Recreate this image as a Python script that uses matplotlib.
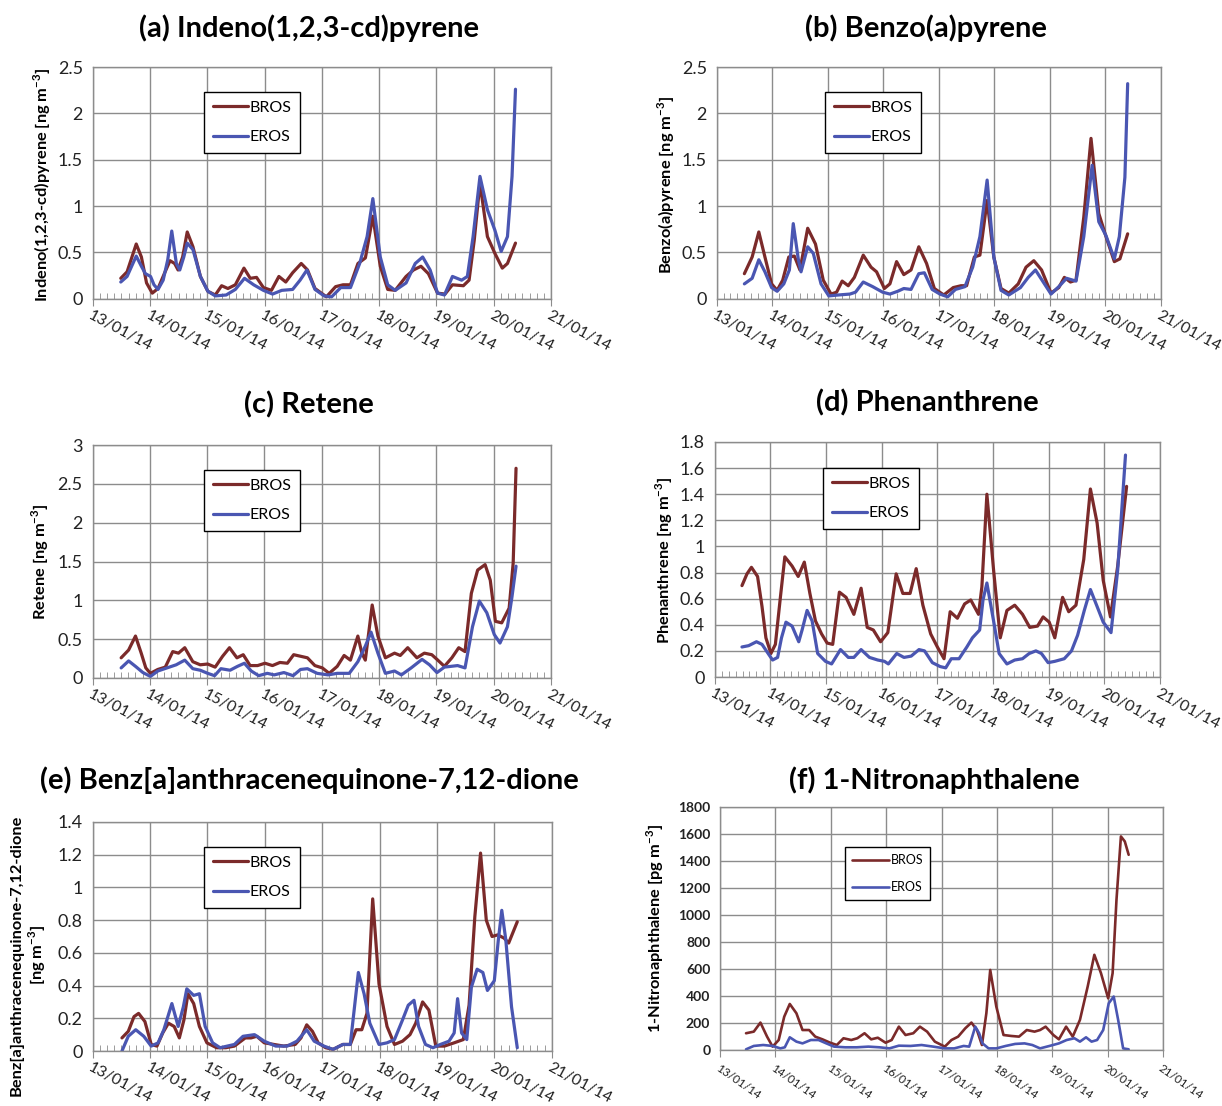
import matplotlib
matplotlib.use('Agg')
import matplotlib.pyplot as plt
from matplotlib.ticker import MultipleLocator, FixedLocator, NullLocator

plt.rcParams['font.family'] = ['Lato', 'DejaVu Sans']
plt.rcParams['mathtext.fontset'] = 'custom'
plt.rcParams['mathtext.rm'] = 'Lato'
plt.rcParams['mathtext.bf'] = 'Lato:bold'

BROS_C = '#7b2a2a'
EROS_C = '#4a56b2'
GRID_C = '#8c8c8c'

days = [13, 14, 15, 16, 17, 18, 19, 20, 21]
day_labels = ['13/01/14', '14/01/14', '15/01/14', '16/01/14', '17/01/14',
              '18/01/14', '19/01/14', '20/01/14', '21/01/14']

# (a) Indeno(1,2,3-cd)pyrene
a_bros_x = [13.49, 13.60, 13.76, 13.85, 13.94, 14.04, 14.14, 14.25, 14.35, 14.43, 14.49, 14.57, 14.65, 14.75,
            14.88, 15.01, 15.14, 15.25, 15.36, 15.49, 15.64, 15.75, 15.86, 15.98, 16.12, 16.25, 16.37, 16.49,
            16.64, 16.75, 16.88, 17.08, 17.24, 17.37, 17.50, 17.63, 17.76, 17.89, 18.02, 18.15, 18.28, 18.47,
            18.60, 18.73, 18.86, 19.02, 19.15, 19.28, 19.47, 19.57, 19.66, 19.76, 19.89, 20.02, 20.15, 20.24, 20.38]
a_bros_y = [0.22, 0.29, 0.59, 0.45, 0.17, 0.06, 0.11, 0.27, 0.41, 0.38, 0.31, 0.45, 0.72, 0.56,
            0.24, 0.08, 0.04, 0.14, 0.11, 0.15, 0.33, 0.22, 0.23, 0.12, 0.09, 0.24, 0.18, 0.28,
            0.38, 0.31, 0.11, 0.02, 0.13, 0.15, 0.15, 0.38, 0.44, 0.89, 0.35, 0.10, 0.09, 0.24,
            0.31, 0.35, 0.27, 0.06, 0.05, 0.15, 0.14, 0.20, 0.63, 1.25, 0.67, 0.49, 0.33, 0.38, 0.60]
a_eros_x = [13.49, 13.60, 13.76, 13.85, 13.92, 14.01, 14.07, 14.14, 14.23, 14.31, 14.38, 14.46, 14.52, 14.59,
            14.65, 14.75, 14.88, 15.01, 15.14, 15.33, 15.49, 15.65, 15.81, 15.98, 16.14, 16.30, 16.49, 16.62,
            16.74, 16.88, 17.04, 17.17, 17.33, 17.50, 17.66, 17.79, 17.89, 18.02, 18.15, 18.28, 18.47, 18.63,
            18.76, 18.89, 19.02, 19.14, 19.28, 19.44, 19.54, 19.64, 19.76, 19.89, 20.02, 20.13, 20.24, 20.32, 20.38]
a_eros_y = [0.18, 0.24, 0.46, 0.35, 0.27, 0.24, 0.15, 0.10, 0.20, 0.42, 0.73, 0.38, 0.31, 0.45,
            0.60, 0.53, 0.24, 0.08, 0.03, 0.04, 0.10, 0.22, 0.15, 0.09, 0.05, 0.09, 0.10, 0.20,
            0.31, 0.10, 0.03, 0.02, 0.12, 0.12, 0.38, 0.67, 1.08, 0.45, 0.15, 0.09, 0.17, 0.38,
            0.45, 0.31, 0.06, 0.04, 0.24, 0.20, 0.24, 0.67, 1.32, 0.96, 0.74, 0.51, 0.67, 1.32, 2.26]

# (b) Benzo(a)pyrene
b_bros_x = [13.50, 13.64, 13.76, 13.87, 13.99, 14.09, 14.19, 14.30, 14.40, 14.50, 14.64, 14.78, 14.92, 15.06,
            15.16, 15.26, 15.37, 15.48, 15.64, 15.78, 15.88, 16.02, 16.12, 16.24, 16.37, 16.50, 16.64, 16.78,
            16.92, 17.09, 17.26, 17.40, 17.50, 17.64, 17.74, 17.87, 17.99, 18.12, 18.26, 18.43, 18.57, 18.71,
            18.85, 19.02, 19.16, 19.26, 19.37, 19.47, 19.61, 19.74, 19.88, 20.01, 20.16, 20.26, 20.40]
b_bros_y = [0.27, 0.45, 0.72, 0.45, 0.16, 0.09, 0.20, 0.45, 0.46, 0.31, 0.76, 0.59, 0.20, 0.05,
            0.07, 0.19, 0.14, 0.23, 0.47, 0.34, 0.29, 0.11, 0.16, 0.40, 0.26, 0.31, 0.56, 0.38,
            0.11, 0.04, 0.12, 0.14, 0.14, 0.45, 0.47, 1.06, 0.45, 0.11, 0.06, 0.16, 0.34, 0.41,
            0.31, 0.06, 0.12, 0.23, 0.18, 0.20, 0.88, 1.73, 0.92, 0.67, 0.40, 0.43, 0.70]
b_eros_x = [13.50, 13.64, 13.76, 13.87, 13.99, 14.09, 14.21, 14.31, 14.38, 14.47, 14.52, 14.64, 14.74, 14.88,
            15.02, 15.19, 15.40, 15.50, 15.64, 15.81, 15.99, 16.12, 16.26, 16.37, 16.50, 16.64, 16.74, 16.88,
            17.02, 17.16, 17.30, 17.47, 17.61, 17.74, 17.87, 17.99, 18.12, 18.26, 18.47, 18.61, 18.74, 18.88,
            19.02, 19.16, 19.30, 19.47, 19.61, 19.76, 19.88, 20.01, 20.16, 20.25, 20.35, 20.40]
b_eros_y = [0.16, 0.22, 0.42, 0.29, 0.12, 0.08, 0.16, 0.31, 0.81, 0.43, 0.29, 0.56, 0.49, 0.16,
            0.03, 0.04, 0.05, 0.07, 0.18, 0.13, 0.07, 0.05, 0.08, 0.11, 0.10, 0.27, 0.28, 0.10,
            0.05, 0.02, 0.10, 0.13, 0.34, 0.67, 1.28, 0.45, 0.09, 0.04, 0.12, 0.23, 0.31, 0.18,
            0.05, 0.13, 0.22, 0.19, 0.67, 1.44, 0.83, 0.68, 0.43, 0.67, 1.31, 2.32]

# (c) Retene
c_bros_x = [13.50, 13.63, 13.75, 13.85, 13.93, 14.01, 14.14, 14.27, 14.40, 14.50, 14.61, 14.75, 14.88, 15.01,
            15.14, 15.27, 15.39, 15.52, 15.63, 15.75, 15.88, 16.01, 16.14, 16.27, 16.40, 16.51, 16.63, 16.75,
            16.88, 17.01, 17.13, 17.27, 17.39, 17.50, 17.63, 17.70, 17.76, 17.88, 17.98, 18.11, 18.27, 18.37,
            18.50, 18.66, 18.79, 18.92, 19.01, 19.14, 19.27, 19.39, 19.50, 19.61, 19.72, 19.85, 19.94, 20.03,
            20.14, 20.27, 20.34, 20.39]
c_bros_y = [0.26, 0.36, 0.54, 0.32, 0.13, 0.06, 0.11, 0.14, 0.34, 0.32, 0.39, 0.21, 0.17, 0.18,
            0.14, 0.28, 0.39, 0.26, 0.30, 0.16, 0.16, 0.19, 0.16, 0.20, 0.19, 0.30, 0.28, 0.26,
            0.16, 0.13, 0.06, 0.15, 0.29, 0.23, 0.54, 0.32, 0.23, 0.94, 0.54, 0.26, 0.32, 0.29,
            0.39, 0.26, 0.32, 0.30, 0.24, 0.15, 0.26, 0.39, 0.34, 1.09, 1.39, 1.46, 1.26, 0.73,
            0.71, 0.90, 1.48, 2.70]
c_eros_x = [13.50, 13.63, 13.75, 13.88, 14.01, 14.14, 14.30, 14.46, 14.61, 14.75, 14.88, 15.01, 15.13, 15.24,
            15.40, 15.53, 15.65, 15.77, 15.90, 16.05, 16.17, 16.34, 16.50, 16.63, 16.75, 16.92, 17.11, 17.27,
            17.48, 17.63, 17.76, 17.86, 17.98, 18.11, 18.27, 18.39, 18.56, 18.75, 18.88, 19.01, 19.14, 19.37,
            19.50, 19.63, 19.75, 19.88, 20.01, 20.11, 20.24, 20.32, 20.39]
c_eros_y = [0.13, 0.22, 0.15, 0.07, 0.02, 0.09, 0.13, 0.17, 0.23, 0.12, 0.10, 0.06, 0.03, 0.12,
            0.10, 0.15, 0.19, 0.09, 0.03, 0.06, 0.04, 0.07, 0.03, 0.11, 0.12, 0.06, 0.04, 0.06,
            0.06, 0.21, 0.41, 0.59, 0.32, 0.06, 0.09, 0.04, 0.13, 0.24, 0.17, 0.07, 0.14, 0.16,
            0.13, 0.66, 0.99, 0.84, 0.56, 0.45, 0.66, 1.05, 1.44]

# (d) Phenanthrene
d_bros_x = [13.49, 13.58, 13.66, 13.77, 13.85, 13.92, 14.01, 14.09, 14.18, 14.26, 14.39, 14.50, 14.61, 14.71,
            14.81, 14.92, 15.02, 15.12, 15.24, 15.36, 15.50, 15.63, 15.74, 15.85, 15.98, 16.11, 16.26, 16.38,
            16.51, 16.62, 16.74, 16.88, 17.00, 17.12, 17.23, 17.36, 17.49, 17.60, 17.74, 17.80, 17.89, 18.01,
            18.13, 18.25, 18.39, 18.53, 18.66, 18.80, 18.90, 19.01, 19.11, 19.25, 19.36, 19.49, 19.63, 19.75,
            19.87, 19.98, 20.11, 20.24, 20.40]
d_bros_y = [0.70, 0.79, 0.84, 0.77, 0.54, 0.30, 0.18, 0.25, 0.61, 0.92, 0.85, 0.77, 0.88, 0.64,
            0.43, 0.33, 0.26, 0.25, 0.65, 0.61, 0.48, 0.68, 0.38, 0.36, 0.27, 0.34, 0.79, 0.64,
            0.64, 0.83, 0.55, 0.33, 0.23, 0.14, 0.50, 0.45, 0.56, 0.59, 0.48, 0.69, 1.40, 0.82,
            0.30, 0.51, 0.55, 0.48, 0.38, 0.39, 0.46, 0.42, 0.30, 0.61, 0.50, 0.55, 0.90, 1.44,
            1.18, 0.74, 0.46, 0.85, 1.46]
d_eros_x = [13.49, 13.61, 13.75, 13.85, 13.96, 14.04, 14.13, 14.20, 14.28, 14.39, 14.51, 14.57, 14.66, 14.75,
            14.85, 14.99, 15.10, 15.26, 15.40, 15.50, 15.63, 15.78, 15.93, 16.05, 16.12, 16.27, 16.40, 16.53,
            16.67, 16.77, 16.91, 17.05, 17.15, 17.25, 17.39, 17.53, 17.63, 17.76, 17.82, 17.89, 18.01, 18.11,
            18.25, 18.39, 18.53, 18.65, 18.77, 18.87, 18.99, 19.11, 19.28, 19.41, 19.52, 19.64, 19.75, 19.87,
            19.98, 20.12, 20.24, 20.38]
d_eros_y = [0.23, 0.24, 0.27, 0.25, 0.18, 0.13, 0.15, 0.30, 0.42, 0.39, 0.27, 0.36, 0.51, 0.43,
            0.18, 0.12, 0.10, 0.21, 0.15, 0.15, 0.21, 0.15, 0.13, 0.12, 0.10, 0.18, 0.15, 0.16,
            0.21, 0.20, 0.11, 0.08, 0.07, 0.14, 0.14, 0.23, 0.30, 0.36, 0.59, 0.72, 0.43, 0.18,
            0.10, 0.13, 0.14, 0.18, 0.20, 0.18, 0.11, 0.12, 0.14, 0.20, 0.32, 0.51, 0.67, 0.54,
            0.42, 0.34, 0.82, 1.70]

# (e) Benz[a]anthracenequinone-7,12-dione
e_bros_x = [13.51, 13.62, 13.72, 13.80, 13.91, 14.02, 14.12, 14.22, 14.32, 14.42, 14.51, 14.59, 14.66, 14.76,
            14.86, 14.99, 15.16, 15.32, 15.47, 15.66, 15.76, 15.86, 15.99, 16.16, 16.33, 16.53, 16.63, 16.73,
            16.83, 16.93, 17.06, 17.19, 17.36, 17.49, 17.59, 17.69, 17.78, 17.88, 17.99, 18.13, 18.26, 18.40,
            18.53, 18.63, 18.75, 18.86, 18.98, 19.13, 19.30, 19.46, 19.56, 19.66, 19.76, 19.86, 19.96, 20.06,
            20.17, 20.25, 20.40]
e_bros_y = [0.08, 0.12, 0.21, 0.23, 0.18, 0.04, 0.03, 0.11, 0.17, 0.15, 0.08, 0.19, 0.35, 0.29,
            0.15, 0.05, 0.02, 0.02, 0.03, 0.08, 0.08, 0.09, 0.05, 0.04, 0.03, 0.04, 0.08, 0.16,
            0.12, 0.05, 0.02, 0.01, 0.04, 0.04, 0.13, 0.13, 0.23, 0.93, 0.41, 0.15, 0.04, 0.06,
            0.10, 0.17, 0.30, 0.25, 0.03, 0.03, 0.05, 0.07, 0.28, 0.82, 1.21, 0.80, 0.70, 0.71,
            0.69, 0.66, 0.79]
e_eros_x = [13.51, 13.62, 13.75, 13.89, 14.02, 14.14, 14.24, 14.38, 14.49, 14.58, 14.64, 14.76, 14.86, 14.96,
            15.09, 15.22, 15.47, 15.62, 15.82, 15.99, 16.19, 16.39, 16.56, 16.73, 16.86, 17.03, 17.19, 17.36,
            17.49, 17.63, 17.73, 17.83, 17.99, 18.13, 18.26, 18.40, 18.50, 18.60, 18.68, 18.80, 18.93, 19.06,
            19.21, 19.30, 19.36, 19.43, 19.52, 19.60, 19.70, 19.80, 19.88, 20.00, 20.07, 20.13, 20.20, 20.30,
            20.40]
e_eros_y = [0.00, 0.09, 0.13, 0.09, 0.03, 0.05, 0.13, 0.29, 0.15, 0.27, 0.38, 0.34, 0.35, 0.15,
            0.05, 0.02, 0.04, 0.09, 0.10, 0.06, 0.03, 0.03, 0.06, 0.13, 0.06, 0.03, 0.01, 0.04,
            0.04, 0.48, 0.35, 0.17, 0.04, 0.05, 0.07, 0.19, 0.28, 0.31, 0.15, 0.04, 0.02, 0.04,
            0.06, 0.11, 0.32, 0.11, 0.07, 0.39, 0.50, 0.48, 0.37, 0.43, 0.68, 0.86, 0.68, 0.27,
            0.02]

# (f) 1-Nitronaphthalene
f_bros_x = [13.47, 13.61, 13.73, 13.85, 13.95, 14.06, 14.16, 14.26, 14.38, 14.49, 14.61, 14.72, 14.85, 14.99,
            15.11, 15.23, 15.37, 15.48, 15.61, 15.73, 15.85, 15.99, 16.10, 16.23, 16.35, 16.49, 16.61, 16.74,
            16.88, 17.06, 17.18, 17.30, 17.43, 17.54, 17.64, 17.73, 17.81, 17.88, 17.99, 18.12, 18.26, 18.40,
            18.54, 18.68, 18.78, 18.88, 19.02, 19.12, 19.25, 19.37, 19.50, 19.64, 19.76, 19.88, 20.01, 20.09,
            20.16, 20.24, 20.31, 20.38]
f_bros_y = [124, 136, 203, 99, 25, 74, 247, 341, 272, 148, 148, 99, 79, 54,
            37, 87, 74, 87, 124, 79, 91, 54, 74, 173, 111, 124, 173, 136,
            62, 25, 74, 99, 161, 203, 148, 37, 272, 593, 321, 111, 104, 99,
            148, 136, 148, 173, 111, 79, 173, 99, 223, 470, 705, 569, 383, 569,
            1113, 1582, 1545, 1446]
f_eros_x = [13.47, 13.61, 13.78, 13.95, 14.09, 14.17, 14.26, 14.38, 14.49, 14.64, 14.78, 14.92, 15.06, 15.26,
            15.47, 15.68, 15.88, 16.06, 16.23, 16.44, 16.64, 16.85, 17.06, 17.23, 17.40, 17.50, 17.61, 17.68,
            17.74, 17.85, 17.99, 18.16, 18.33, 18.50, 18.64, 18.78, 18.95, 19.12, 19.26, 19.40, 19.50, 19.61,
            19.71, 19.81, 19.92, 20.02, 20.11, 20.19, 20.28, 20.38]
f_eros_y = [5, 30, 37, 30, 12, 20, 94, 62, 49, 74, 74, 49, 25, 20,
            20, 25, 20, 12, 32, 30, 37, 25, 12, 12, 30, 25, 173, 124,
            49, 12, 12, 30, 45, 49, 37, 12, 30, 49, 74, 87, 62, 94,
            62, 74, 148, 346, 396, 223, 12, 5]

W, H = 1222, 1106
fig = plt.figure(figsize=(W / 100, H / 100), dpi=100)


def px_rect(l, t, r, b):
    return [l / W, 1 - b / H, (r - l) / W, (b - t) / H]


def panel(rect, title, title_xy, ylabel, ylabel_xy, yticks, bx, by, ex, ey, leg_xy, small=False):
    ax = fig.add_axes(px_rect(*rect))
    lw = 1.9 if small else 2.3
    ax.plot(bx, by, color=BROS_C, lw=lw, label='BROS', solid_joinstyle='round', solid_capstyle='round')
    ax.plot(ex, ey, color=EROS_C, lw=lw, label='EROS', solid_joinstyle='round', solid_capstyle='round')
    ax.set_xlim(13, 21)
    ax.set_ylim(yticks[0], yticks[-1])
    ax.xaxis.set_major_locator(FixedLocator(days))
    ax.set_xticklabels(day_labels)
    ax.yaxis.set_major_locator(FixedLocator(yticks))
    ax.set_yticklabels(['%g' % v for v in yticks])
    if small:
        ax.xaxis.set_minor_locator(NullLocator())
    else:
        ax.xaxis.set_minor_locator(MultipleLocator(0.125))
    ax.grid(True, which='major', color=GRID_C, lw=1)
    ax.set_axisbelow(True)
    for s in ax.spines.values():
        s.set_color(GRID_C)
        s.set_linewidth(1)
    ax.tick_params(axis='y', length=0, pad=7, labelsize=10 if small else 13, colors='#222222')
    ax.tick_params(axis='x', which='major', direction='out', length=5, color=GRID_C,
                   pad=4 if small else 2, labelsize=8.5 if small else 11.5, labelcolor='#222222')
    ax.tick_params(axis='x', which='minor', direction='in', length=4, color=GRID_C)
    rot = -35 if small else -28
    for lab in ax.get_xticklabels():
        lab.set_rotation(rot)
        lab.set_ha('left')
        lab.set_va('top')
        lab.set_rotation_mode('anchor')
    if small:
        for lab in ax.get_yticklabels():
            lab.set_fontweight('bold')
    fig.text(title_xy[0] / W, 1 - title_xy[1] / H, title, ha='center', va='center',
             fontsize=21, fontweight='bold')
    fig.text(ylabel_xy[0] / W, 1 - ylabel_xy[1] / H, ylabel, ha='center', va='center',
             rotation=90, fontsize=11.8, fontweight='bold', multialignment='center')
    leg = ax.legend(loc='upper left', bbox_to_anchor=(leg_xy[0] / W, 1 - leg_xy[1] / H),
                    bbox_transform=fig.transFigure, fancybox=False, edgecolor='black', framealpha=1,
                    fontsize=9 if small else 11.5, handlelength=2.2 if not small else 3.0,
                    handletextpad=0.1, labelspacing=0.95 if not small else 1.2,
                    borderpad=0.55, borderaxespad=0)
    leg.get_frame().set_linewidth(1.0)
    return ax


unit = r'[ng m$^{\mathbf{-3}}$]'

panel((92.7, 67, 551, 298.7), '(a) Indeno(1,2,3-cd)pyrene', (309, 28),
      'Indeno(1,2,3-cd)pyrene ' + unit, (42, 185), [0, 0.5, 1, 1.5, 2, 2.5],
      a_bros_x, a_bros_y, a_eros_x, a_eros_y, (204, 92))
panel((716.6, 67, 1161, 298.7), '(b) Benzo(a)pyrene', (926, 28),
      'Benzo(a)pyrene ' + unit, (666, 185), [0, 0.5, 1, 1.5, 2, 2.5],
      b_bros_x, b_bros_y, b_eros_x, b_eros_y, (825, 92))
panel((92.5, 445, 551, 678), '(c) Retene', (309, 405),
      'Retene ' + unit, (40, 562), [0, 0.5, 1, 1.5, 2, 2.5, 3],
      c_bros_x, c_bros_y, c_eros_x, c_eros_y, (204, 470))
panel((714.7, 442, 1160, 677), '(d) Phenanthrene', (927, 403),
      'Phenanthrene ' + unit, (664, 560), [0, 0.2, 0.4, 0.6, 0.8, 1, 1.2, 1.4, 1.6, 1.8],
      d_bros_x, d_bros_y, d_eros_x, d_eros_y, (823, 468))
panel((92.7, 822, 551.7, 1051), '(e) Benz[a]anthracenequinone-7,12-dione', (309, 780),
      'Benz[a]anthracenequinone-7,12-dione\n' + unit, (29, 955),
      [0, 0.2, 0.4, 0.6, 0.8, 1, 1.2, 1.4],
      e_bros_x, e_bros_y, e_eros_x, e_eros_y, (204, 847))
panel((720, 807, 1163, 1050), '(f) 1-Nitronaphthalene', (934, 780),
      '1-Nitronaphthalene [pg m$^{\\mathbf{-3}}$]', (655, 928),
      [0, 200, 400, 600, 800, 1000, 1200, 1400, 1600, 1800],
      f_bros_x, f_bros_y, f_eros_x, f_eros_y, (845, 847), small=True)

fig.savefig('out.png', dpi=100, facecolor='white')
